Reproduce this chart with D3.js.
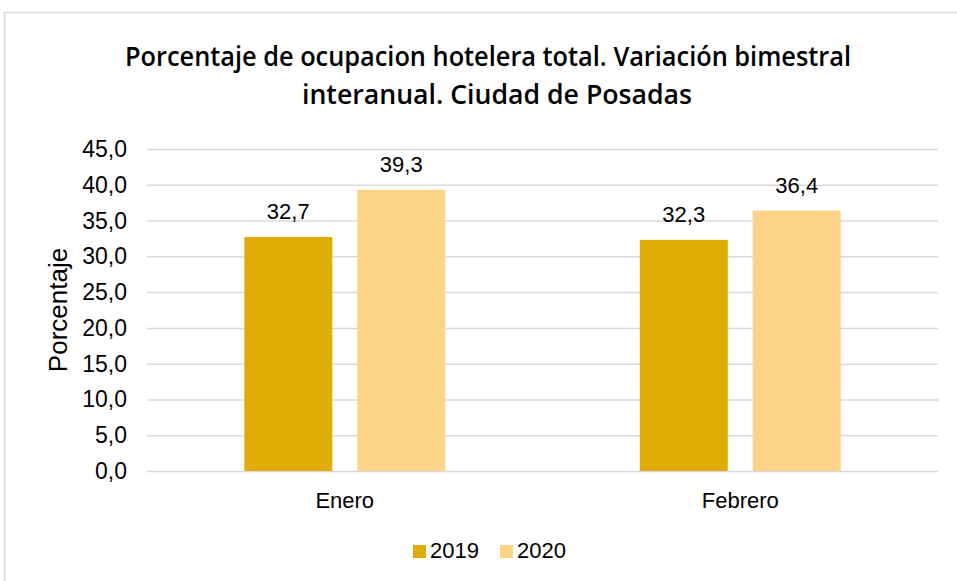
<!DOCTYPE html>
<html>
<head>
<meta charset="utf-8">
<script src="https://cdn.jsdelivr.net/npm/d3@7"></script>
<style>
  body { margin: 0; background: #fff; }
  .grid line { stroke: #d9d9d9; stroke-width: 1.5; }
  .grid path { display: none; }
  .tick-label, .cat-label, .value-label, .legend-label, .axis-title {
    font-family: "Liberation Sans", Arial, sans-serif; fill: #000;
  }
  .title { font-family: "Open Sans", "Noto Sans", sans-serif; font-weight: 600; fill: #000; }
</style>
</head>
<body>
<div id="chart"></div>
<script>
// data
const categories = ['Enero', 'Febrero'];
const seriesNames = ['2019', '2020'];
const values2019 = [32.7, 32.3];
const values2020 = [39.3, 36.4];
const yTicks = [0, 5, 10, 15, 20, 25, 30, 35, 40, 45];
const titleLines = ['Porcentaje de ocupacion hotelera total. Variación bimestral', 'interanual. Ciudad de Posadas'];
const colors = ['#e0ac08', '#fdd387'];

const width = 957, height = 581;
const margin = {top: 149, right: 19, bottom: 110, left: 147};
const innerW = width - margin.left - margin.right;
const innerH = height - margin.top - margin.bottom;

const svg = d3.select('#chart').append('svg')
    .attr('width', width)
    .attr('height', height);

// outer chart frame
svg.append('rect')
    .attr('x', 4.5).attr('y', 12.5)
    .attr('width', 970).attr('height', 600)
    .attr('fill', '#fff')
    .attr('stroke', '#d9d9d9')
    .attr('stroke-width', 1.5);

// title, squeezed to the width of the condensed original font
const titleWidths = [726, 390];
const titleCenters = [488, 497];
svg.selectAll('.title')
    .data(titleLines)
  .join('text')
    .attr('class', 'title')
    .attr('x', (d, i) => titleCenters[i])
    .attr('y', (d, i) => 66 + i * 38)
    .attr('text-anchor', 'middle')
    .attr('textLength', (d, i) => titleWidths[i])
    .attr('lengthAdjust', 'spacingAndGlyphs')
    .style('font-size', '27px')
    .text(d => d);

const g = svg.append('g')
    .attr('transform', `translate(${margin.left},${margin.top})`);

const x0 = d3.scaleBand()
    .domain(categories)
    .range([0, innerW])
    .paddingInner(0.492)
    .paddingOuter(0.246);

const x1 = d3.scaleBand()
    .domain(seriesNames)
    .range([0, x0.bandwidth()])
    .paddingInner(0.221);

const y = d3.scaleLinear()
    .domain([0, 45])
    .range([innerH, 0]);

const fmt = d3.formatLocale({decimal: ',', thousands: '.', grouping: [3], currency: ['', '']}).format('.1f');

// gridlines
g.append('g')
    .attr('class', 'grid')
    .call(d3.axisLeft(y).tickValues(yTicks).tickSize(-innerW).tickFormat(''))
    .call(a => a.select('.domain').remove());

// y tick labels
g.selectAll('.tick-label')
    .data(yTicks)
  .join('text')
    .attr('class', 'tick-label')
    .attr('x', -20)
    .attr('y', d => y(d))
    .attr('dy', '0.35em')
    .attr('text-anchor', 'end')
    .style('font-size', '23px')
    .text(d => fmt(d));

svg.append('text')
    .attr('class', 'axis-title')
    .attr('transform', `translate(67,${margin.top + innerH / 2}) rotate(-90)`)
    .attr('text-anchor', 'middle')
    .style('font-size', '26px')
    .text('Porcentaje');

const rows = categories.map((c, i) => ({cat: c, vals: [values2019[i], values2020[i]]}));

const groups = g.selectAll('.cat-group')
    .data(rows)
  .join('g')
    .attr('class', 'cat-group')
    .attr('transform', d => `translate(${x0(d.cat)},0)`);

const bars = groups.selectAll('.bar')
    .data(d => d.vals.map((v, i) => ({key: seriesNames[i], value: v, idx: i})))
  .join('g');

bars.append('rect')
    .attr('x', d => x1(d.key))
    .attr('y', d => y(d.value))
    .attr('width', x1.bandwidth())
    .attr('height', d => innerH - y(d.value))
    .attr('fill', d => colors[d.idx]);

bars.append('text')
    .attr('class', 'value-label')
    .attr('x', d => x1(d.key) + x1.bandwidth() / 2)
    .attr('y', d => y(d.value) - 18)
    .attr('text-anchor', 'middle')
    .style('font-size', '22px')
    .text(d => fmt(d.value));

// category labels
g.selectAll('.cat-label')
    .data(categories)
  .join('text')
    .attr('class', 'cat-label')
    .attr('x', d => x0(d) + x0.bandwidth() / 2)
    .attr('y', innerH + 37)
    .attr('text-anchor', 'middle')
    .style('font-size', '22px')
    .text(d => d);

// legend
const legend = svg.append('g')
    .attr('transform', 'translate(413,545)');

const legendX = [0, 87];
const item = legend.selectAll('.legend-item')
    .data(seriesNames)
  .join('g')
    .attr('transform', (d, i) => `translate(${legendX[i]},0)`);

item.append('rect')
    .attr('width', 13).attr('height', 13)
    .attr('fill', (d, i) => colors[i]);

item.append('text')
    .attr('class', 'legend-label')
    .attr('x', 17)
    .attr('y', 13)
    .style('font-size', '22px')
    .text(d => d);
</script>
</body>
</html>
